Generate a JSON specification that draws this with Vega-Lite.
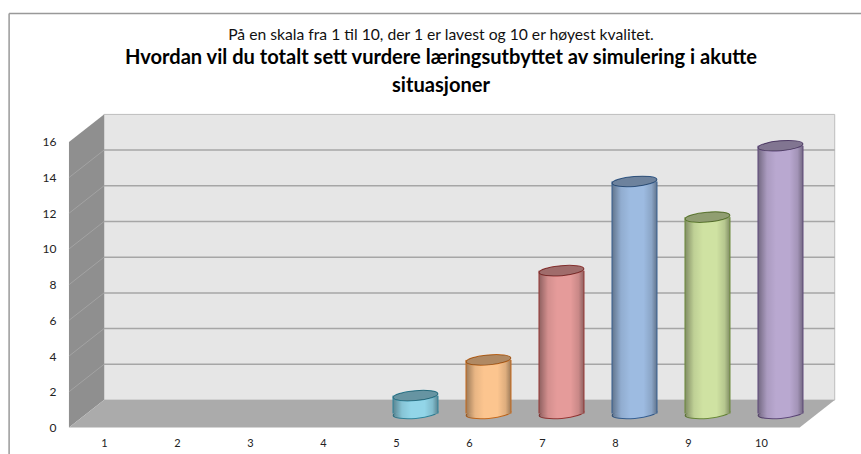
{
"$schema":"https://vega.github.io/schema/vega-lite/v6.json",
"width":861,"height":454,"padding":0,"autosize":{"type":"none"},
"background":"white",
"config":{"view":{"stroke":null},"font":"Lato","scale":{"continuousPadding":0},"axis":{"title":null}},
"title":{"text":"På en skala fra 1 til 10, der 1 er lavest og 10 er høyest kvalitet.","subtitle":["Hvordan vil du totalt sett vurdere læringsutbyttet av simulering i akutte","situasjoner"],"anchor":"middle","offset":-97,"dx":10.5,"font":"Lato","fontSize":15.7,"fontWeight":"normal","color":"#111","subtitleFont":"Lato","subtitleFontSize":20.1,"subtitleFontWeight":"bold","subtitleColor":"#000","subtitleLineHeight":28,"subtitlePadding":4,"baseline":"top"},
"datasets":{
"scores":[{"score":1,"n":0},{"score":2,"n":0},{"score":3,"n":0},{"score":4,"n":0},{"score":5,"n":1},{"score":6,"n":3},{"score":7,"n":8},{"score":8,"n":13},{"score":9,"n":11},{"score":10,"n":15}],
"sideWall":[{"x":0.52,"y":0,"y2":16},{"x":1,"y":1.54,"y2":17.54}],
"floor":[{"x":0.52,"y":0,"y2":0},{"x":1,"y":0,"y2":1.54},{"x":10.53,"y":0,"y2":1.54},{"x":11.01,"y":1.54,"y2":1.54}],
"backWall":[{"x":1,"x2":11.01,"y":1.54,"y2":17.54}],
"grid":[{"v":2},{"v":4},{"v":6},{"v":8},{"v":10},{"v":12},{"v":14}],
"sideGrid":[{"x":0.52,"x2":1,"y":2,"y2":3.54},{"x":0.52,"x2":1,"y":4,"y2":5.54},{"x":0.52,"x2":1,"y":6,"y2":7.54},{"x":0.52,"x2":1,"y":8,"y2":9.54},{"x":0.52,"x2":1,"y":10,"y2":11.54},{"x":0.52,"x2":1,"y":12,"y2":13.54},{"x":0.52,"x2":1,"y":14,"y2":15.54}],
"frame":[{"x":-0.3,"x2":11.37,"y":23.2,"y2":23.2},{"x":-0.3,"x2":-0.3,"y":23.2,"y2":-1.49}]
},
"layer":[
{"data":{"name":"backWall"},"mark":{"type":"rect","fill":"#e6e6e6","stroke":"#bdbdbd","strokeWidth":1},
 "encoding":{"x":{"field":"x","type":"quantitative","scale":{"domain":[-0.4247,11.37],"nice":false,"zero":false},
   "axis":{"values":[1,2,3,4,5,6,7,8,9,10],"orient":"bottom","offset":-26.5,"domain":false,"ticks":false,"grid":false,"title":null,"labelFont":"Lato","labelFontSize":11,"labelColor":"#222","labelPadding":10,"labelFlush":false,"labelOverlap":false,"format":"d"}},
  "x2":{"field":"x2"},
  "y":{"field":"y","type":"quantitative","scale":{"domain":[-1.485,23.95],"nice":false,"zero":false},
   "axis":{"values":[0,2,4,6,8,10,12,14,16],"orient":"left","offset":-69,"domain":false,"ticks":false,"grid":false,"title":null,"labelFont":"Lato","labelFontSize":12,"labelColor":"#222","labelPadding":13,"labelFlush":false,"labelOverlap":false,"format":"d"}},
  "y2":{"field":"y2"}}},
{"data":{"name":"sideWall"},"mark":{"type":"area","orient":"vertical","fill":"#8f8f8f"},
 "encoding":{"x":{"field":"x","type":"quantitative"},
  "y":{"field":"y","type":"quantitative"},"y2":{"field":"y2"}}},
{"data":{"name":"floor"},"mark":{"type":"area","orient":"vertical","fill":"#ababab"},
 "encoding":{"x":{"field":"x","type":"quantitative"},
  "y":{"field":"y","type":"quantitative"},"y2":{"field":"y2"}}},
{"data":{"name":"grid"},"mark":{"type":"rule","stroke":"#a6a6a6","strokeWidth":1.5,"yOffset":-27.5},
 "encoding":{"x":{"datum":1,"type":"quantitative"},"x2":{"datum":11.01},
  "y":{"field":"v","type":"quantitative"}}},
{"data":{"name":"sideGrid"},"mark":{"type":"rule","stroke":"#a3a3a3","strokeWidth":1},
 "encoding":{"x":{"field":"x","type":"quantitative"},"x2":{"field":"x2"},
  "y":{"field":"y","type":"quantitative"},"y2":{"field":"y2"}}},
{"data":{"name":"frame"},"mark":{"type":"rule","stroke":"#999999","strokeWidth":1.5},
 "encoding":{"x":{"field":"x","type":"quantitative"},"x2":{"field":"x2"},
  "y":{"field":"y","type":"quantitative"},"y2":{"field":"y2"}}},
{"data":{"name":"scores"},"transform":[{"filter":"datum.n>0"}],
 "mark":{"type":"point","filled":true,"shape":"M-1,0 A1,0.22 0 1,1 1,0 A1,0.22 0 1,1 -1,0 Z","angle":-5,"size":2025,"opacity":1,"xOffset":19.5,"yOffset":-14,"strokeWidth":1},
 "encoding":{"x":{"field":"score","type":"quantitative"},
  "y":{"datum":0,"type":"quantitative"},
  "fill":{"field":"score","type":"nominal","legend":null,"scale":{"domain":[5,6,7,8,9,10],"range":["#92d5e8","#fcc58f","#e59b9a","#9dbbe1","#cfe2a2","#b9a8d0"]}},
  "stroke":{"field":"score","type":"nominal","legend":null,"scale":{"domain":[5,6,7,8,9,10],"range":["#31859c","#c66a1d","#953735","#376092","#6b8a3a","#5f497a"]}}}},
{"data":{"name":"scores"},"transform":[{"filter":"datum.n>0"}],
 "mark":{"type":"point","filled":true,"shape":"M-1,0 A1,0.22 0 1,1 1,0 A1,0.22 0 1,1 -1,0 Z","angle":-5,"size":2025,"opacity":1,"xOffset":19.5,"yOffset":-14,"strokeOpacity":0,"fill":{"gradient":"linear","x1":0,"y1":0,"x2":1,"y2":0,"stops":[{"offset":0,"color":"rgba(0,0,0,0.38)"},{"offset":0.2,"color":"rgba(0,0,0,0.08)"},{"offset":0.4,"color":"rgba(0,0,0,0)"},{"offset":0.7,"color":"rgba(0,0,0,0)"},{"offset":0.88,"color":"rgba(0,0,0,0.12)"},{"offset":1,"color":"rgba(0,0,0,0.38)"}]}},
 "encoding":{"x":{"field":"score","type":"quantitative"},
  "y":{"datum":0,"type":"quantitative"}}},
{"data":{"name":"scores"},"transform":[{"filter":"datum.n>0"}],
 "mark":{"type":"bar","width":45,"xOffset":19.5,"yOffset":-14},
 "encoding":{"x":{"field":"score","type":"quantitative"},
  "y":{"field":"n","type":"quantitative"},
  "fill":{"field":"score","type":"nominal","legend":null}}},
{"data":{"name":"scores"},"transform":[{"filter":"datum.n>0"}],
 "mark":{"type":"bar","width":45,"xOffset":19.5,"yOffset":-14,"fill":{"gradient":"linear","x1":0,"y1":0,"x2":1,"y2":0,"stops":[{"offset":0,"color":"rgba(0,0,0,0.38)"},{"offset":0.2,"color":"rgba(0,0,0,0.08)"},{"offset":0.4,"color":"rgba(0,0,0,0)"},{"offset":0.7,"color":"rgba(0,0,0,0)"},{"offset":0.88,"color":"rgba(0,0,0,0.12)"},{"offset":1,"color":"rgba(0,0,0,0.38)"}]}},
 "encoding":{"x":{"field":"score","type":"quantitative"},
  "y":{"field":"n","type":"quantitative"}}},
{"data":{"name":"scores"},"transform":[{"filter":"datum.n>0"}],
 "mark":{"type":"rule","xOffset":-3,"yOffset":-14,"y2Offset":-14,"strokeWidth":1},
 "encoding":{"x":{"field":"score","type":"quantitative"},
  "y":{"field":"n","type":"quantitative"},"y2":{"datum":0},
  "stroke":{"field":"score","type":"nominal","legend":null}}},
{"data":{"name":"scores"},"transform":[{"filter":"datum.n>0"}],
 "mark":{"type":"rule","xOffset":42,"yOffset":-14,"y2Offset":-14,"strokeWidth":1},
 "encoding":{"x":{"field":"score","type":"quantitative"},
  "y":{"field":"n","type":"quantitative"},"y2":{"datum":0},
  "stroke":{"field":"score","type":"nominal","legend":null}}},
{"data":{"name":"scores"},"transform":[{"filter":"datum.n>0"}],
 "mark":{"type":"point","filled":true,"shape":"M-1,0 A1,0.22 0 1,1 1,0 A1,0.22 0 1,1 -1,0 Z","angle":-5,"size":2025,"opacity":1,"xOffset":19.5,"yOffset":-14,"strokeWidth":1},
 "encoding":{"x":{"field":"score","type":"quantitative"},
  "y":{"field":"n","type":"quantitative"},
  "fill":{"field":"score","type":"nominal","legend":null},
  "stroke":{"field":"score","type":"nominal","legend":null}}},
{"data":{"name":"scores"},"transform":[{"filter":"datum.n>0"}],
 "mark":{"type":"point","filled":true,"shape":"M-1,0 A1,0.22 0 1,1 1,0 A1,0.22 0 1,1 -1,0 Z","angle":-5,"size":2025,"opacity":1,"xOffset":19.5,"yOffset":-14,"fill":"#000","fillOpacity":0.3,"strokeOpacity":0},
 "encoding":{"x":{"field":"score","type":"quantitative"},
  "y":{"field":"n","type":"quantitative"}}}
]
}
